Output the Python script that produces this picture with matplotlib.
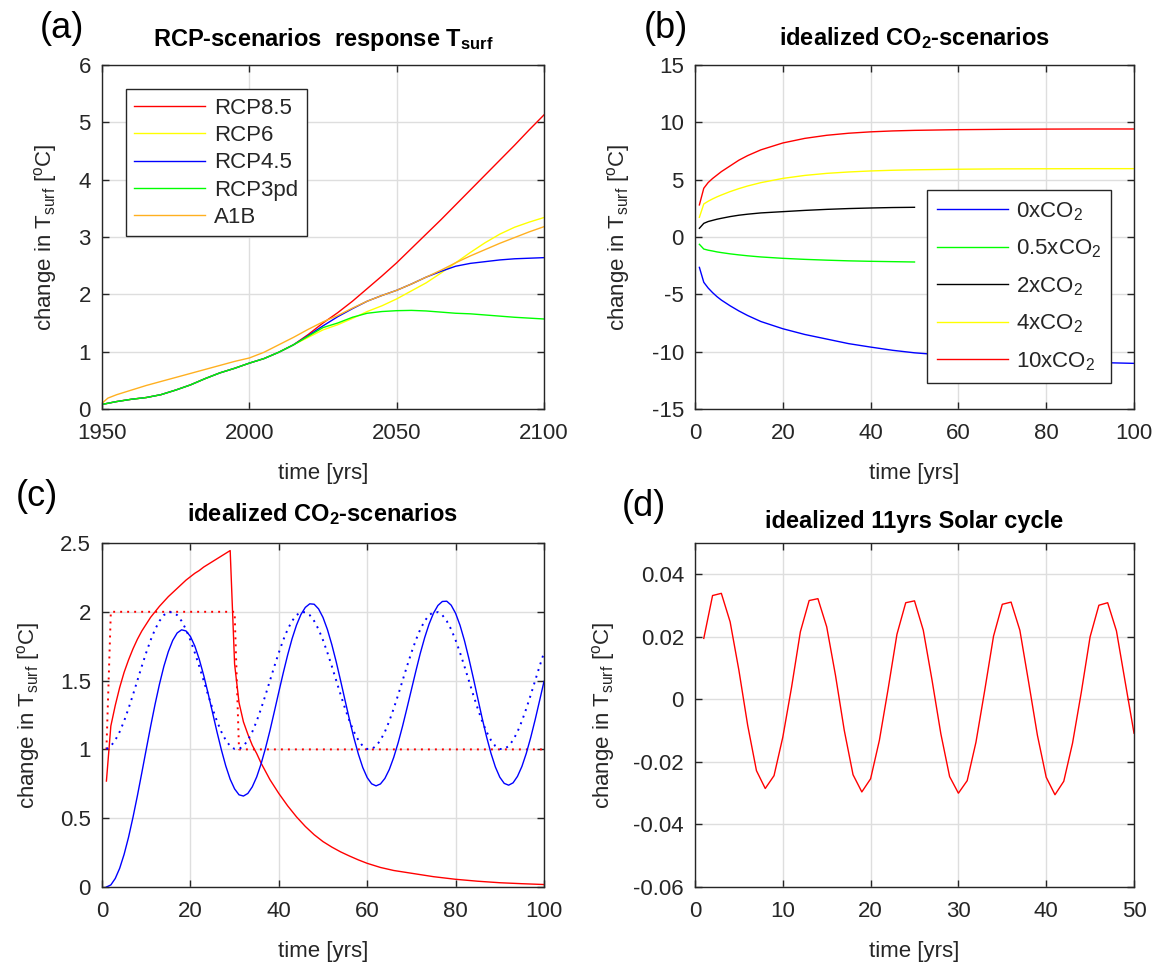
import matplotlib
matplotlib.use("Agg")
import matplotlib.pyplot as plt
from matplotlib.ticker import FuncFormatter

plt.rcParams['font.family'] = ['Liberation Sans', 'DejaVu Sans']
plt.rcParams['mathtext.fontset'] = 'custom'
plt.rcParams['mathtext.rm'] = 'Liberation Sans'
plt.rcParams['mathtext.it'] = 'Liberation Sans:italic'
plt.rcParams['mathtext.bf'] = 'Liberation Sans:bold'
plt.rcParams['axes.unicode_minus'] = False

# ---------------- panel (a): RCP scenarios ----------------
years_a = [1950, 1952, 1955, 1960, 1965, 1970, 1975, 1980, 1985, 1990, 1995, 2000,
           2005, 2010, 2015, 2020, 2025, 2030, 2035, 2040, 2045, 2050, 2055, 2060,
           2065, 2070, 2075, 2080, 2085, 2090, 2095, 2100]
rcp85 = [0.08, 0.10, 0.13, 0.17, 0.20, 0.25, 0.33, 0.42, 0.53, 0.63, 0.71, 0.80,
         0.88, 0.99, 1.12, 1.30, 1.50, 1.68, 1.88, 2.10, 2.32, 2.55, 2.80, 3.05,
         3.30, 3.56, 3.82, 4.08, 4.34, 4.60, 4.87, 5.13]
rcp6 = [0.08, 0.10, 0.13, 0.17, 0.20, 0.25, 0.33, 0.42, 0.53, 0.63, 0.71, 0.80,
        0.88, 0.99, 1.12, 1.25, 1.38, 1.47, 1.58, 1.70, 1.80, 1.92, 2.06, 2.20,
        2.37, 2.55, 2.73, 2.90, 3.05, 3.17, 3.26, 3.34]
rcp45 = [0.08, 0.10, 0.13, 0.17, 0.20, 0.25, 0.33, 0.42, 0.53, 0.63, 0.71, 0.80,
         0.88, 0.99, 1.12, 1.28, 1.45, 1.61, 1.75, 1.88, 1.98, 2.07, 2.18, 2.30,
         2.40, 2.49, 2.54, 2.57, 2.60, 2.62, 2.63, 2.64]
rcp3pd = [0.08, 0.10, 0.13, 0.17, 0.20, 0.25, 0.33, 0.42, 0.53, 0.63, 0.71, 0.80,
          0.88, 0.99, 1.12, 1.27, 1.42, 1.50, 1.60, 1.67, 1.70, 1.715, 1.72, 1.71,
          1.69, 1.67, 1.66, 1.64, 1.62, 1.60, 1.585, 1.57]
a1b = [0.10, 0.19, 0.25, 0.33, 0.41, 0.48, 0.55, 0.62, 0.69, 0.76, 0.83, 0.89,
       0.99, 1.12, 1.25, 1.39, 1.52, 1.63, 1.76, 1.88, 1.98, 2.07, 2.18, 2.30,
       2.42, 2.55, 2.67, 2.78, 2.89, 2.99, 3.09, 3.18]
labels_a = ['RCP8.5', 'RCP6', 'RCP4.5', 'RCP3pd', 'A1B']

# ---------------- panel (b): idealized CO2 steps ----------------
t_b = [1, 2, 3, 4, 5, 6, 8, 10, 12, 15, 20, 25, 30, 35, 40, 45, 50, 60, 70, 80, 90, 100]
co2_0x = [-2.65, -3.95, -4.45, -4.85, -5.2, -5.5, -6.0, -6.45, -6.85, -7.37, -8.0, -8.5,
          -8.9, -9.3, -9.6, -9.88, -10.1, -10.4, -10.62, -10.8, -10.93, -11.02]
t_b_short = [1, 2, 3, 4, 5, 6, 8, 10, 12, 15, 20, 25, 30, 35, 40, 45, 50]
co2_05x = [-0.64, -1.05, -1.15, -1.22, -1.30, -1.36, -1.47, -1.56, -1.64, -1.74,
           -1.86, -1.95, -2.02, -2.08, -2.12, -2.15, -2.18]
co2_2x = [0.76, 1.19, 1.35, 1.45, 1.55, 1.63, 1.78, 1.90, 1.99, 2.10, 2.21, 2.32,
          2.41, 2.48, 2.53, 2.57, 2.59]
co2_4x = [1.72, 2.88, 3.12, 3.32, 3.50, 3.66, 3.96, 4.22, 4.45, 4.74, 5.11, 5.37,
          5.55, 5.67, 5.76, 5.82, 5.86, 5.91, 5.94, 5.95, 5.96, 5.96]
co2_10x = [2.8, 4.25, 4.75, 5.1, 5.4, 5.7, 6.2, 6.7, 7.1, 7.6, 8.2, 8.6, 8.87,
           9.05, 9.17, 9.25, 9.30, 9.36, 9.39, 9.41, 9.42, 9.42]
labels_b = ['0xCO$_2$', '0.5xCO$_2$', '2xCO$_2$', '4xCO$_2$', '10xCO$_2$']

# ---------------- panel (c): idealized CO2 pulse and oscillation ----------------
t_c_red = [1, 2, 3, 4, 5, 6, 7, 8, 9, 10, 11, 12, 13, 14, 15, 16, 17, 18, 19, 20,
           21, 22, 23, 24, 25, 26, 27, 28, 29, 30, 31, 32, 33, 34, 35, 36, 37, 38,
           39, 40, 42, 44, 46, 48, 50, 52, 54, 56, 58, 60, 63, 66, 70, 75, 80, 85,
           90, 95, 100]
red_resp = [0.77, 1.17, 1.32, 1.45, 1.56, 1.65, 1.73, 1.80, 1.86, 1.91, 1.96, 2.00,
            2.04, 2.075, 2.11, 2.14, 2.17, 2.20, 2.23, 2.255, 2.28, 2.30, 2.325, 2.345,
            2.365, 2.385, 2.405, 2.425, 2.445, 1.62, 1.34, 1.20, 1.11, 1.03, 0.97, 0.90,
            0.84, 0.78, 0.73, 0.68, 0.59, 0.51, 0.44, 0.38, 0.33, 0.29, 0.255, 0.225,
            0.197, 0.172, 0.142, 0.12, 0.10, 0.075, 0.056, 0.042, 0.031, 0.024, 0.018]
t_c_red_forcing = [1, 2, 30, 31, 100]
red_forcing = [1, 2, 2, 1, 1]
t_c_blue = list(range(1, 101))
blue_resp = [0.000, 0.015, 0.062, 0.136, 0.237, 0.361, 0.505, 0.662, 0.829, 0.999,
             1.167, 1.327, 1.474, 1.604, 1.710, 1.792, 1.846, 1.869, 1.861, 1.821,
             1.751, 1.655, 1.539, 1.408, 1.269, 1.129, 0.998, 0.880, 0.783, 0.713,
             0.670, 0.661, 0.680, 0.728, 0.800, 0.896, 1.010, 1.137, 1.276, 1.417,
             1.555, 1.686, 1.804, 1.903, 1.980, 2.032, 2.058, 2.055, 2.021, 1.959,
             1.871, 1.761, 1.635, 1.497, 1.355, 1.215, 1.083, 0.966, 0.868, 0.795,
             0.750, 0.735, 0.749, 0.789, 0.854, 0.942, 1.048, 1.169, 1.300, 1.434,
             1.568, 1.697, 1.812, 1.911, 1.990, 2.046, 2.075, 2.077, 2.048, 1.989,
             1.902, 1.791, 1.661, 1.520, 1.373, 1.228, 1.092, 0.972, 0.872, 0.798,
             0.753, 0.740, 0.757, 0.804, 0.876, 0.972, 1.087, 1.216, 1.354, 1.494]
blue_forcing = [1.003, 1.024, 1.067, 1.128, 1.206, 1.297, 1.396, 1.500, 1.604, 1.703,
                1.794, 1.872, 1.933, 1.976, 1.997, 1.997, 1.976, 1.933, 1.872, 1.794,
                1.703, 1.604, 1.500, 1.396, 1.297, 1.206, 1.128, 1.067, 1.024, 1.003,
                1.003, 1.024, 1.067, 1.128, 1.206, 1.297, 1.396, 1.500, 1.604, 1.703,
                1.794, 1.872, 1.933, 1.976, 1.997, 1.997, 1.976, 1.933, 1.872, 1.794,
                1.703, 1.604, 1.500, 1.396, 1.297, 1.206, 1.128, 1.067, 1.024, 1.003,
                1.003, 1.024, 1.067, 1.128, 1.206, 1.297, 1.396, 1.500, 1.604, 1.703,
                1.794, 1.872, 1.933, 1.976, 1.997, 1.997, 1.976, 1.933, 1.872, 1.794,
                1.703, 1.604, 1.500, 1.396, 1.297, 1.206, 1.128, 1.067, 1.024, 1.003,
                1.003, 1.024, 1.067, 1.128, 1.206, 1.297, 1.396, 1.500, 1.604, 1.703]

# ---------------- panel (d): solar cycle ----------------
t_d = list(range(1, 51))
solar_resp = [0.0195, 0.0332, 0.0339, 0.0248, 0.0093, -0.0083, -0.0228, -0.0285,
              -0.0244, -0.0121, 0.0039, 0.0216, 0.0316, 0.0322, 0.0232, 0.0077,
              -0.0099, -0.0241, -0.0296, -0.0254, -0.0131, 0.0034, 0.0208, 0.0309,
              0.0315, 0.0221, 0.0061, -0.0110, -0.0247, -0.0300, -0.0260, -0.0137,
              0.0029, 0.0202, 0.0304, 0.0311, 0.0221, 0.0055, -0.0115, -0.0249,
              -0.0305, -0.0262, -0.0140, 0.0023, 0.0200, 0.0301, 0.0309, 0.0219,
              0.0055, -0.0108]

# ---------------- styling ----------------
FS = 16
TFS = 17
AXC = '#262626'
GRIDC = '#dedede'
LW = 1.0
YLAB = r'change in T$_{\rm surf}$ [$^{\rm o}$C]'

W, H = 1157, 966
fig = plt.figure(figsize=(W / 100, H / 100), dpi=100)


def make_ax(l, t, r, b):
    return fig.add_axes([l / W, 1 - b / H, (r - l) / W, (b - t) / H])


def style(ax):
    for s in ax.spines.values():
        s.set_color(AXC)
        s.set_linewidth(1.0)
    ax.tick_params(direction='in', length=5, width=1.0, colors=AXC, labelsize=FS,
                   top=True, right=True, pad=10)
    ax.tick_params(axis='y', pad=8)
    ax.grid(True, color=GRIDC, linewidth=1.0)
    ax.set_axisbelow(True)
    ax.yaxis.set_major_formatter(FuncFormatter(lambda v, p: '%g' % round(v, 6)))


def fix_labels(ax, ylab_x):
    ax.set_xlabel('time [yrs]', fontsize=FS, color=AXC)
    ax.set_ylabel(YLAB, fontsize=FS, color=AXC)
    ax.xaxis.set_label_coords(0.5, -0.158)
    ax.yaxis.set_label_coords(ylab_x, 0.5)


def style_legend(leg):
    leg.get_frame().set_edgecolor(AXC)
    leg.get_frame().set_linewidth(1.0)
    leg.get_frame().set_alpha(1.0)
    for tx in leg.get_texts():
        tx.set_color(AXC)


axa = make_ax(102, 65, 544, 409)
axb = make_ax(695, 65, 1134, 409)
axc = make_ax(102, 543, 544, 887)
axd = make_ax(695, 543, 1134, 887)
for ax in (axa, axb, axc, axd):
    style(ax)

# (a)
cols_a = ['#ff0000', '#ffff00', '#0000ff', '#00ff00', '#ffb020']
for ser, c, lab in zip([rcp85, rcp6, rcp45, rcp3pd, a1b], cols_a, labels_a):
    axa.plot(years_a, ser, color=c, lw=LW, label=lab)
axa.set_xlim(1950, 2100)
axa.set_ylim(0, 6)
axa.set_xticks([1950, 2000, 2050, 2100])
axa.set_yticks(range(0, 7))
leg = axa.legend(loc='upper left', bbox_to_anchor=(0.054, 0.929), borderaxespad=0,
                 fontsize=16, frameon=True, fancybox=False, framealpha=1.0,
                 handlelength=3.2, handletextpad=0.4, labelspacing=0.28, borderpad=0.38)
style_legend(leg)
axa.set_title(r'RCP-scenarios  response T$_\mathbf{surf}$', fontsize=TFS, fontweight='bold', pad=14)
fix_labels(axa, -0.098)

# (b)
axb.plot(t_b, co2_0x, color='#0000ff', lw=LW, label=labels_b[0])
axb.plot(t_b_short, co2_05x, color='#00ff00', lw=LW, label=labels_b[1])
axb.plot(t_b_short, co2_2x, color='#000000', lw=LW, label=labels_b[2])
axb.plot(t_b, co2_4x, color='#ffff00', lw=LW, label=labels_b[3])
axb.plot(t_b, co2_10x, color='#ff0000', lw=LW, label=labels_b[4])
axb.set_xlim(0, 100)
axb.set_ylim(-15, 15)
axb.set_xticks(range(0, 101, 20))
axb.set_yticks(range(-15, 16, 5))
legb = axb.legend(loc='upper left', bbox_to_anchor=(0.5285, 0.6366), borderaxespad=0,
                  fontsize=16, frameon=True, fancybox=False, framealpha=1.0,
                  handlelength=3.2, handletextpad=0.35, labelspacing=0.67, borderpad=0.45)
style_legend(legb)
axb.set_title(r'idealized CO$_\mathbf{2}$-scenarios', fontsize=TFS, fontweight='bold', pad=14)
fix_labels(axb, -0.143)

# (c)
axc.plot(t_c_red, red_resp, color='#ff0000', lw=LW)
axc.plot(t_c_red_forcing, red_forcing, color='#ff0000', lw=1.4, linestyle=(0, (1, 2.6)))
axc.plot(t_c_blue, blue_resp, color='#0000ff', lw=LW)
axc.plot(t_c_blue, blue_forcing, color='#0000ff', lw=1.4, linestyle=(0, (1, 2.6)))
axc.set_xlim(0, 100)
axc.set_ylim(0, 2.5)
axc.set_xticks(range(0, 101, 20))
axc.set_yticks([0, 0.5, 1, 1.5, 2, 2.5])
axc.set_title(r'idealized CO$_\mathbf{2}$-scenarios', fontsize=TFS, fontweight='bold', pad=16)
fix_labels(axc, -0.135)

# (d)
axd.plot(t_d, solar_resp, color='#ff0000', lw=LW)
axd.set_xlim(0, 50)
axd.set_ylim(-0.06, 0.05)
axd.set_xticks(range(0, 51, 10))
axd.set_yticks([-0.06, -0.04, -0.02, 0, 0.02, 0.04])
axd.set_title('idealized 11yrs Solar cycle', fontsize=TFS, fontweight='bold', pad=11)
fix_labels(axd, -0.178)

# panel letters
for txt, x, y in [('(a)', 40, 28), ('(b)', 644, 28), ('(c)', 16, 497), ('(d)', 622, 507)]:
    fig.text(x / W, 1 - y / H, txt, fontsize=26, color='black', ha='left', va='center')

fig.savefig('out.png', dpi=100, facecolor='white')
